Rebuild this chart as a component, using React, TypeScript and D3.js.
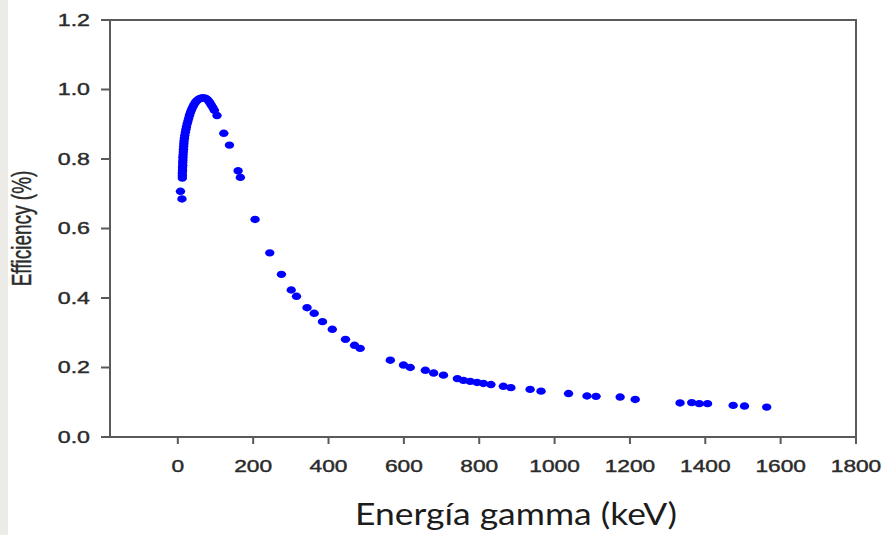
import React from 'react';
import * as d3 from 'd3';

// gamma energy (keV) and efficiency values
const energy = [
  7, 11, 12, 12, 12, 12.5, 12.5, 13, 13, 13.5, 13.5, 14, 14.5, 15, 15.5, 16, 16.5, 17.5, 18.5,
  20, 21.5, 23, 25, 27, 29, 31, 33.5, 36, 39, 42, 46, 50, 54, 57, 61, 65, 69, 73, 77, 81, 85,
  89, 93, 97, 104, 122, 137, 160, 166, 205, 244, 275, 301, 315, 343, 362, 384, 410, 445,
  469, 484, 564, 599, 617, 657, 679, 705, 742, 758, 776, 794, 811, 831, 864, 884, 935, 964,
  1037, 1086, 1110, 1174, 1214, 1333, 1364, 1384, 1406, 1474, 1504, 1563
];
const efficiency = [
  0.707, 0.685, 0.745, 0.752, 0.76, 0.767, 0.775, 0.782, 0.79, 0.797, 0.805, 0.812, 0.82,
  0.828, 0.836, 0.844, 0.852, 0.86, 0.868, 0.877, 0.885, 0.893, 0.902, 0.91, 0.918, 0.926,
  0.934, 0.941, 0.948, 0.955, 0.962, 0.967, 0.971, 0.973, 0.975, 0.976, 0.976, 0.975, 0.972,
  0.968, 0.962, 0.955, 0.948, 0.94, 0.925, 0.874, 0.84, 0.766, 0.747, 0.626, 0.53, 0.468,
  0.423, 0.405, 0.372, 0.356, 0.332, 0.31, 0.281, 0.264, 0.255, 0.221, 0.207, 0.2, 0.192,
  0.184, 0.178, 0.168, 0.163, 0.16, 0.157, 0.154, 0.151, 0.146, 0.142, 0.137, 0.132, 0.125,
  0.118, 0.117, 0.115, 0.108, 0.098, 0.099, 0.096, 0.096, 0.091, 0.089, 0.086
];
const xTicks = [0, 200, 400, 600, 800, 1000, 1200, 1400, 1600, 1800];
const yTicks = [0, 0.2, 0.4, 0.6, 0.8, 1.0, 1.2];

const W = 886, H = 535;
const left = 110, right = 856, top = 20, bottom = 437;

export default function App() {
  const x = d3.scaleLinear().domain([-180, 1800]).range([left, right]);
  const y = d3.scaleLinear().domain([0, 1.2]).range([bottom, top]);
  const points = energy.map((e, i) => ({ e, v: efficiency[i] }));
  const axisColor = '#5a5a5a';
  const textColor = '#2b2b2b';

  return (
    <svg width={W} height={H} style={{ position: 'absolute', left: 0, top: 0, background: '#fff' }}>
      <rect x={0} y={0} width={8} height={H} fill="#ecebe8" />

      {/* frame */}
      <rect x={left} y={top} width={right - left} height={bottom - top} fill="none" stroke={axisColor} strokeWidth={2} />

      {/* y axis */}
      {yTicks.map(t => (
        <g key={'y' + t}>
          <line x1={left - 9} x2={left} y1={y(t)} y2={y(t)} stroke={axisColor} strokeWidth={2} />
          <text
            transform={`translate(90,${y(t)}) scale(1.45,1)`}
            textAnchor="end"
            dominantBaseline="central"
            fontFamily="Liberation Sans, Arial, sans-serif"
            fontSize={16}
            fill={textColor}
            stroke={textColor}
            strokeWidth={0.4}
          >
            {d3.format('.1f')(t)}
          </text>
        </g>
      ))}

      {/* x axis */}
      {xTicks.map(t => (
        <g key={'x' + t}>
          <line x1={x(t)} x2={x(t)} y1={bottom} y2={bottom + 7} stroke={axisColor} strokeWidth={2} />
          <text
            transform={`translate(${x(t)},472) scale(1.42,1)`}
            textAnchor="middle"
            fontFamily="Liberation Sans, Arial, sans-serif"
            fontSize={16}
            fill={textColor}
            stroke={textColor}
            strokeWidth={0.4}
          >
            {t}
          </text>
        </g>
      ))}

      {/* points */}
      {points.map((p, i) => (
        <ellipse key={i} cx={x(p.e)} cy={y(p.v)} rx={4.7} ry={3.7} fill="#0000ff" />
      ))}

      {/* axis titles */}
      <text
        transform="translate(31,228.5) scale(1.45,1) rotate(-90)"
        textAnchor="middle"
        fontFamily="Liberation Sans, Arial, sans-serif"
        fontSize={19}
        fill={textColor}
        stroke={textColor}
        strokeWidth={0.3}
      >
        Efficiency (%)
      </text>
      <text
        x={355}
        y={525}
        textLength={322}
        lengthAdjust="spacingAndGlyphs"
        fontFamily="Lato, 'Open Sans', sans-serif"
        fontSize={30}
        fill="#1c1c1c"
      >
        Energía gamma (keV)
      </text>
    </svg>
  );
}
